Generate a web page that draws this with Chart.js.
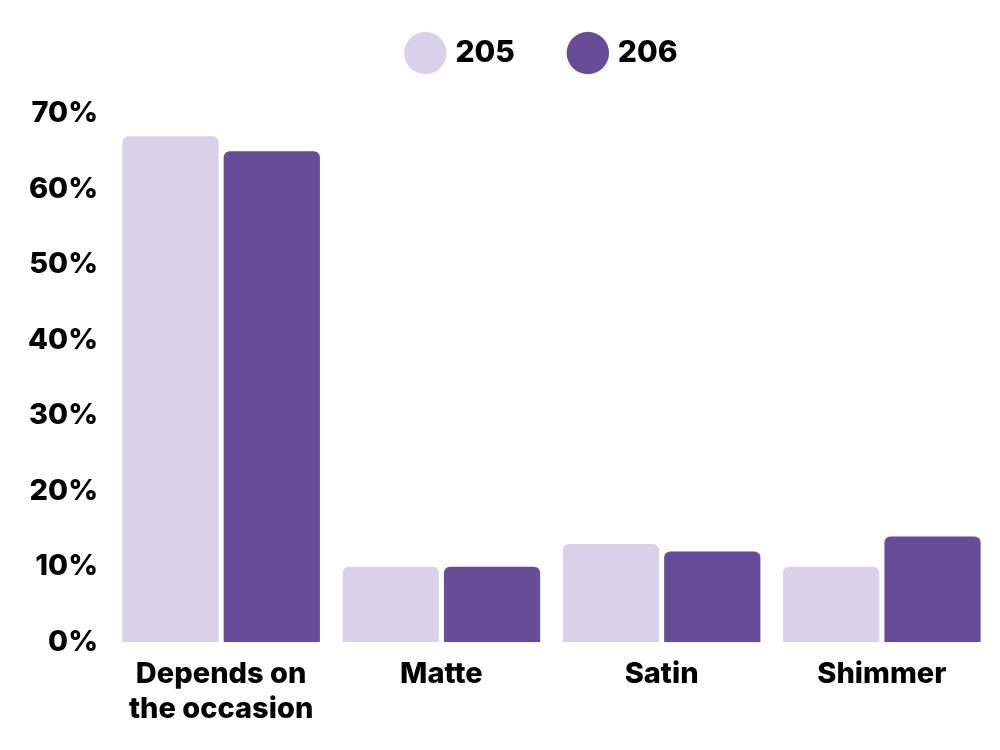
<!DOCTYPE html>
<html>
<head>
<meta charset="utf-8">
<script src="https://cdn.jsdelivr.net/npm/chart.js@4"></script>
<style>
  html, body { margin: 0; padding: 0; background: #fff; }
  #wrap { width: 1000px; height: 750px; }
</style>
</head>
<body>
<div id="wrap"><canvas id="finishChart"></canvas></div>
<script>
var categories = [["Depends on", "the occasion"], "Matte", "Satin", "Shimmer"];
var seriesNames = ["205", "206"];
var values205 = [67, 10, 13, 10];
var values206 = [65, 10, 12, 14];
var tickValues = [0, 10, 20, 30, 40, 50, 60, 70];

var fontFamily = "Inter, 'Noto Sans', sans-serif";

// extra room under the legend, and legend centred over the bars
var legendGap = {
    id: 'legendGap',
    beforeInit: function (chart) {
        var fit = chart.legend.fit;
        chart.legend.fit = function () {
            fit.bind(chart.legend)();
            this.height += 35.5;
        };
    },
    afterLayout: function (chart) {
        chart.legend.left += 48;
        chart.legend.right += 48;
    }
};

var ctx = document.getElementById("finishChart");
var finishChart = new Chart(ctx, {
    type: 'bar',
    data: {
        labels: categories,
        datasets: [
            {
                label: seriesNames[0],
                data: values205,
                backgroundColor: '#d9d0ea',
                borderRadius: { topLeft: 6, topRight: 6 },
                borderSkipped: 'bottom'
            },
            {
                label: seriesNames[1],
                data: values206,
                backgroundColor: '#674c97',
                borderRadius: { topLeft: 6, topRight: 6 },
                borderSkipped: 'bottom'
            }
        ]
    },
    plugins: [legendGap],
    options: {
        responsive: true,
        maintainAspectRatio: false,
        animation: false,
        layout: { padding: { left: 0, right: 8, top: -20, bottom: 17 } },
        datasets: {
            bar: { categoryPercentage: 0.92, barPercentage: 0.95 }
        },
        plugins: {
            tooltip: { enabled: false },
            legend: {
                display: true,
                position: 'top',
                labels: {
                    usePointStyle: true,
                    pointStyle: 'circle',
                    boxWidth: 32,
                    boxHeight: 32,
                    padding: 58,
                    color: '#000',
                    font: { family: fontFamily, size: 30, weight: 800 }
                }
            }
        },
        scales: {
            x: {
                grid: { display: false },
                border: { display: false },
                ticks: {
                    color: '#000',
                    padding: 6,
                    maxRotation: 0,
                    autoSkip: false,
                    font: { family: fontFamily, size: 29, weight: 800, lineHeight: 1.22 }
                }
            },
            y: {
                min: 0,
                max: 70,
                grid: { display: false, drawTicks: false },
                border: { display: false },
                afterBuildTicks: function (axis) {
                    axis.ticks = tickValues.map(function (v) { return { value: v }; });
                },
                afterFit: function (axis) {
                    axis.width = 111;
                },
                ticks: {
                    color: '#000',
                    padding: 13,
                    font: { family: fontFamily, size: 29, weight: 800 },
                    callback: function (v) { return v + '%'; }
                }
            }
        }
    }
});
</script>
</body>
</html>
